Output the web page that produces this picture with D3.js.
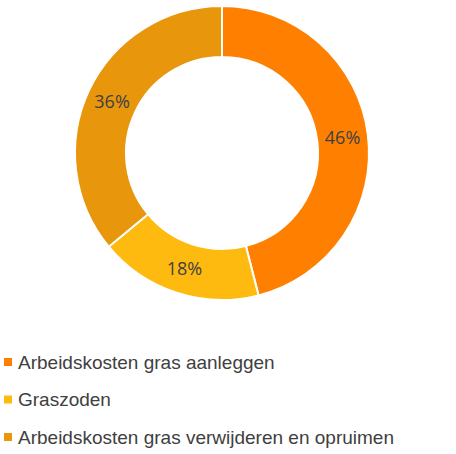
<!DOCTYPE html>
<html><head><meta charset="utf-8">
<script src="https://cdn.jsdelivr.net/npm/d3@7"></script>
<style>body{margin:0;background:#fff}</style>
</head><body>
<svg id="chart" width="456" height="454"></svg>
<script>
// data
const categories = ["Arbeidskosten gras aanleggen", "Graszoden", "Arbeidskosten gras verwijderen en opruimen"];
const values = [46, 18, 36];
const colors = ["#FF8000", "#FFBA10", "#E8960C"];

const svg = d3.select("#chart");
const cx = 222, cy = 153, outerR = 147, innerR = 96;

const pie = d3.pie().sort(null).value(d => d);
const arcs = pie(values);
const arc = d3.arc().innerRadius(innerR).outerRadius(outerR);
const labelArc = d3.arc().innerRadius((innerR + outerR) / 2).outerRadius((innerR + outerR) / 2);

const g = svg.append("g").attr("transform", `translate(${cx},${cy})`);

g.selectAll("path")
  .data(arcs)
  .join("path")
  .attr("d", arc)
  .attr("fill", (d, i) => colors[i])
  .attr("stroke", "#fff")
  .attr("stroke-width", 2);

g.selectAll("text")
  .data(arcs)
  .join("text")
  .attr("transform", d => `translate(${labelArc.centroid(d)})`)
  .attr("text-anchor", "middle")
  .attr("dy", "0.35em")
  .style("font-family", "'Open Sans', sans-serif")
  .style("font-size", "18px")
  .style("fill", "#404040")
  .text(d => d.data + "%");

// legend
const legend = svg.append("g").attr("class", "legend");
categories.forEach((c, i) => {
  const y = 362 + i * 37.5;
  legend.append("rect")
    .attr("x", 4).attr("y", y - 4)
    .attr("width", 8).attr("height", 8)
    .attr("fill", colors[i]);
  legend.append("text")
    .attr("x", 18).attr("y", y)
    .attr("dy", "0.35em")
    .style("font-family", "'Liberation Sans', Arial, sans-serif")
    .style("font-size", "19px")
    .style("fill", "#404040")
    .text(c);
});
</script>
</body></html>
